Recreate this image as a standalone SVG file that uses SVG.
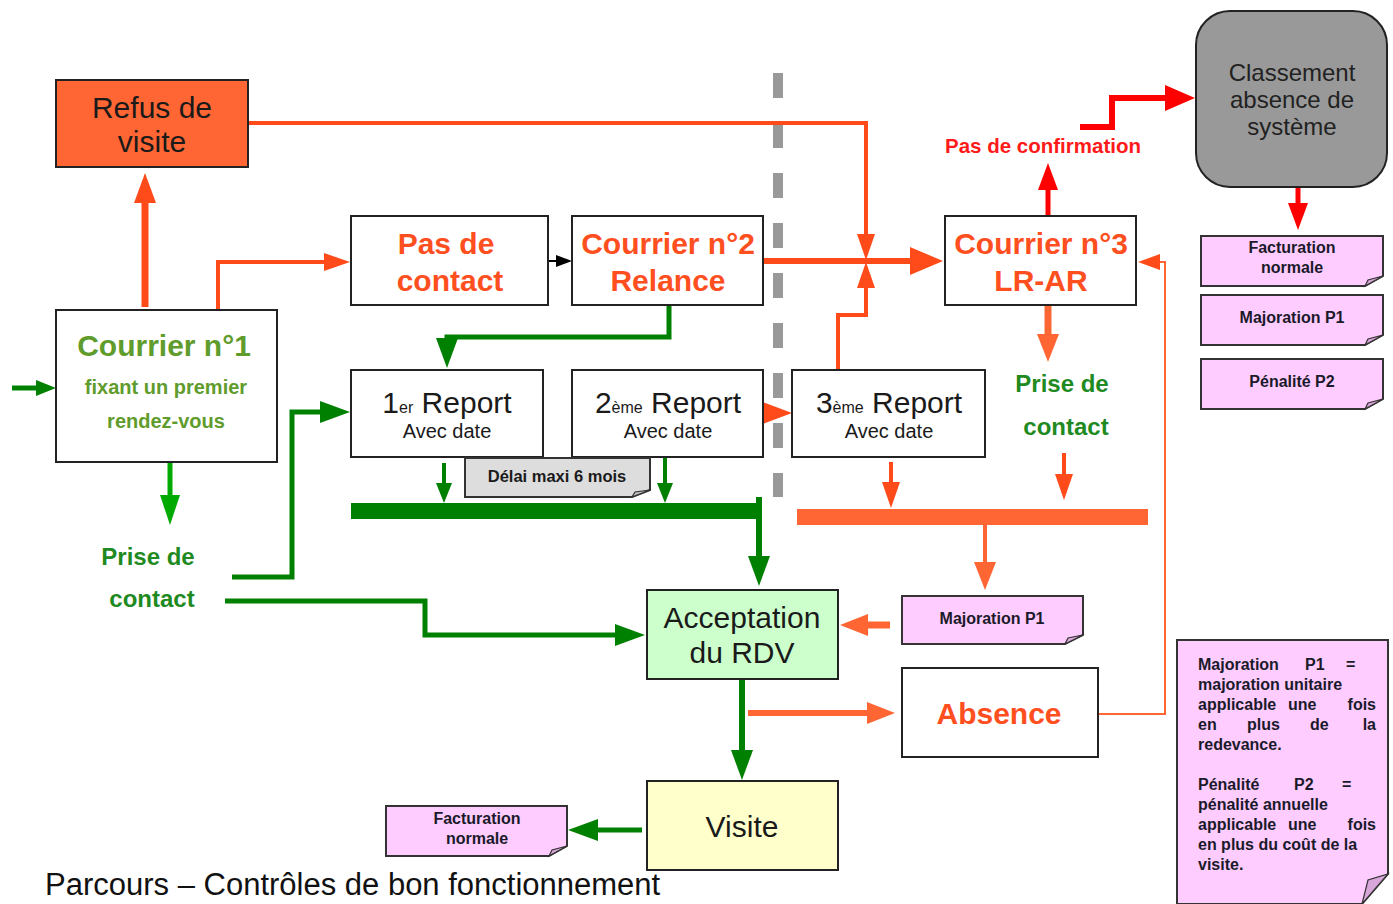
<svg xmlns="http://www.w3.org/2000/svg" width="1393" height="904" viewBox="0 0 1393 904">
<style>
  text { font-family: "Liberation Sans", Arial, sans-serif; }
  .box { fill: #ffffff; stroke: #222222; stroke-width: 2; }
  .note { fill: #FFCCFF; stroke: #333333; stroke-width: 2; }
  .fold { fill: #d9a6d9; stroke: #333333; stroke-width: 1.2; }
  .t-or { fill: #FF4F1F; font-weight: bold; font-size: 30px; text-anchor: middle; }
  .t-bk { fill: #1a1a1a; font-size: 30px; text-anchor: middle; }
  .t-note { fill: #1a1a2a; font-weight: bold; font-size: 16px; text-anchor: middle; }
  .t-big { fill: #1a1a2a; font-weight: bold; font-size: 16px; }
  .end { text-anchor: end; }
  .t-gr { fill: #1f8a1f; font-weight: bold; font-size: 24px; text-anchor: middle; }
  .c-or { fill: none; stroke: #FF4A1A; }
  .c-o { fill: none; stroke: #FF6633; }
  .c-r { fill: none; stroke: #FF0000; }
  .c-g { fill: none; stroke: #008000; }
  .c-g2 { fill: none; stroke: #00AA00; }
  .c-k { fill: none; stroke: #000000; }
</style>
<defs>
  <marker id="hOR30" markerUnits="userSpaceOnUse" viewBox="0 0 30 22" markerWidth="30" markerHeight="22" refX="0" refY="11" orient="auto"><path d="M0,0 L30,11 L0,22 Z" fill="#FF4A1A"/></marker>
  <marker id="hOR26" markerUnits="userSpaceOnUse" viewBox="0 0 26 18" markerWidth="26" markerHeight="18" refX="0" refY="9" orient="auto"><path d="M0,0 L26,9 L0,18 Z" fill="#FF4A1A"/></marker>
  <marker id="hOR33" markerUnits="userSpaceOnUse" viewBox="0 0 33 28" markerWidth="33" markerHeight="28" refX="0" refY="14" orient="auto"><path d="M0,0 L33,14 L0,28 Z" fill="#FF4A1A"/></marker>
  <marker id="hK" markerUnits="userSpaceOnUse" viewBox="0 0 16 12" markerWidth="16" markerHeight="12" refX="0" refY="6" orient="auto"><path d="M0,0 L16,6 L0,12 Z" fill="#000000"/></marker>
  <marker id="hR27" markerUnits="userSpaceOnUse" viewBox="0 0 27 20" markerWidth="27" markerHeight="20" refX="0" refY="10" orient="auto"><path d="M0,0 L27,10 L0,20 Z" fill="#FF0000"/></marker>
  <marker id="hR30" markerUnits="userSpaceOnUse" viewBox="0 0 30 26" markerWidth="30" markerHeight="26" refX="0" refY="13" orient="auto"><path d="M0,0 L30,13 L0,26 Z" fill="#FF0000"/></marker>
  <marker id="hO28" markerUnits="userSpaceOnUse" viewBox="0 0 28 22" markerWidth="28" markerHeight="22" refX="0" refY="11" orient="auto"><path d="M0,0 L28,11 L0,22 Z" fill="#FF6633"/></marker>
  <marker id="hOt" markerUnits="userSpaceOnUse" viewBox="0 0 22 16" markerWidth="22" markerHeight="16" refX="0" refY="8" orient="auto"><path d="M0,0 L22,8 L0,16 Z" fill="#FF4A1A"/></marker>
  <marker id="hG" markerUnits="userSpaceOnUse" viewBox="0 0 30 22" markerWidth="30" markerHeight="22" refX="0" refY="11" orient="auto"><path d="M0,0 L30,11 L0,22 Z" fill="#008000"/></marker>
  <marker id="hG20" markerUnits="userSpaceOnUse" viewBox="0 0 20 16" markerWidth="20" markerHeight="16" refX="0" refY="8" orient="auto"><path d="M0,0 L20,8 L0,16 Z" fill="#008000"/></marker>
  <marker id="hG2" markerUnits="userSpaceOnUse" viewBox="0 0 30 20" markerWidth="30" markerHeight="20" refX="0" refY="10" orient="auto"><path d="M0,0 L30,10 L0,20 Z" fill="#00AA00"/></marker>
</defs>

<!-- separator -->
<line x1="778" y1="73" x2="778" y2="497" stroke="#999999" stroke-width="10" stroke-dasharray="25 25"/>

<g id="connectors">
  <path class="c-or" stroke-width="7" d="M145,307 V203" marker-end="url(#hOR30)"/>
  <path class="c-or" stroke-width="4" d="M218,312 V262 H324" marker-end="url(#hOR26)"/>
  <path class="c-k" stroke-width="2" d="M548,261 H556" marker-end="url(#hK)"/>
  <path class="c-or" stroke-width="6" d="M763,261 H910" marker-end="url(#hOR33)"/>
  <path class="c-or" stroke-width="4" d="M248,123 H866 V234" marker-end="url(#hOR26)"/>
  <path class="c-or" stroke-width="4" d="M838,370 V315 H866 V288" marker-end="url(#hOR26)"/>
  <path class="c-r" stroke-width="5" d="M1048,216 V190" marker-end="url(#hR27)"/>
  <path class="c-r" stroke-width="6" d="M1080,127 H1112 V98 H1165" marker-end="url(#hR30)"/>
  <path class="c-r" stroke-width="5" d="M1298,187 V203" marker-end="url(#hR27)"/>
  <path class="c-o" stroke-width="7" d="M1048,305 V334" marker-end="url(#hO28)"/>
  <path class="c-or" stroke-width="4" d="M1064,453 V474" marker-end="url(#hOR26)"/>
  <path class="c-or" stroke-width="4" d="M891,462 V482" marker-end="url(#hOR26)"/>
  <rect x="797" y="509" width="351" height="16" fill="#FF6633"/>
  <path class="c-o" stroke-width="4" d="M985,525 V562" marker-end="url(#hO28)"/>
  <path class="c-o" stroke-width="7" d="M890,625 H868" marker-end="url(#hO28)"/>
  <path class="c-o" stroke-width="6" d="M748,713 H867" marker-end="url(#hO28)"/>
  <path class="c-o" stroke-width="2" d="M1098,714 H1165 V262 H1160" marker-end="url(#hOt)"/>
  <polygon points="760,401 792,413 760,425" fill="#FF4A1A"/>
  <path class="c-g" stroke-width="6" d="M742,679 V750" marker-end="url(#hG)"/>
  <path class="c-g" stroke-width="5" d="M642,830 H598" marker-end="url(#hG)"/>
  <path class="c-g" stroke-width="5" d="M669,305 V337 H447 V338" marker-end="url(#hG)"/>
  <path class="c-g" stroke-width="4" d="M444,463 V483" marker-end="url(#hG20)"/>
  <path class="c-g" stroke-width="4" d="M665,457 V483" marker-end="url(#hG20)"/>
  <rect x="351" y="503" width="410" height="16" fill="#008000"/>
  <path class="c-g" stroke-width="6" d="M759,497 V556" marker-end="url(#hG)"/>
  <path class="c-g2" stroke-width="5" d="M170,462 V495" marker-end="url(#hG2)"/>
  <path class="c-g" stroke-width="5" d="M12,388 H36" marker-end="url(#hG20)"/>
  <path class="c-g" stroke-width="5" d="M232,577 H292 V412 H320" marker-end="url(#hG)"/>
  <path class="c-g" stroke-width="5" d="M225,601 H425 V635 H615" marker-end="url(#hG)"/>
</g>

<g id="refus">
  <rect x="56" y="80" width="192" height="87" fill="#FF6633" stroke="#222222" stroke-width="2"/>
  <text class="t-bk" x="152" y="118">Refus de</text>
  <text class="t-bk" x="152" y="152">visite</text>
</g>

<g id="courrier1">
  <rect class="box" x="56" y="310" width="221" height="152"/>
  <text x="164" y="356" fill="#5f9c2c" font-weight="bold" font-size="30" text-anchor="middle">Courrier n°1</text>
  <text x="166" y="394" fill="#5f9c2c" font-weight="bold" font-size="20" text-anchor="middle">fixant un premier</text>
  <text x="166" y="428" fill="#5f9c2c" font-weight="bold" font-size="20" text-anchor="middle">rendez-vous</text>
</g>

<g id="pas-de-contact">
  <rect class="box" x="351" y="216" width="197" height="89"/>
  <text class="t-or" x="446" y="254">Pas de</text>
  <text class="t-or" x="450" y="291">contact</text>
</g>

<g id="courrier2">
  <rect class="box" x="572" y="216" width="191" height="89"/>
  <text class="t-or" x="668" y="254">Courrier n°2</text>
  <text class="t-or" x="668" y="291">Relance</text>
</g>

<g id="courrier3">
  <rect class="box" x="945" y="216" width="191" height="89"/>
  <text class="t-or" x="1041" y="254">Courrier n°3</text>
  <text class="t-or" x="1041" y="291">LR-AR</text>
</g>

<g id="pas-confirmation">
  <text x="1043" y="153" fill="#FF1A1A" font-weight="bold" font-size="20.5" text-anchor="middle">Pas de confirmation</text>
</g>

<g id="classement">
  <rect x="1196" y="11" width="191" height="176" rx="34" ry="34" fill="#999999" stroke="#222222" stroke-width="2"/>
  <text x="1292" y="81" fill="#222222" font-size="24" text-anchor="middle">Classement</text>
  <text x="1292" y="108" fill="#222222" font-size="24" text-anchor="middle">absence de</text>
  <text x="1292" y="135" fill="#222222" font-size="24" text-anchor="middle">système</text>
</g>

<g id="note-facturation-1">
  <path class="note" d="M1201,236 H1383 V276 L1365,286 H1201 Z"/>
  <path class="fold" d="M1383,276 L1365,286 L1368,280 Z"/>
  <text class="t-note" x="1292" y="253">Facturation</text>
  <text class="t-note" x="1292" y="273">normale</text>
</g>
<g id="note-majoration-1">
  <path class="note" d="M1201,295 H1383 V335 L1365,345 H1201 Z"/>
  <path class="fold" d="M1383,335 L1365,345 L1368,339 Z"/>
  <text class="t-note" x="1292" y="323">Majoration P1</text>
</g>
<g id="note-penalite">
  <path class="note" d="M1201,359 H1383 V399 L1365,409 H1201 Z"/>
  <path class="fold" d="M1383,399 L1365,409 L1368,403 Z"/>
  <text class="t-note" x="1292" y="387">Pénalité P2</text>
</g>

<g id="prise-contact-right">
  <text class="t-gr" x="1062" y="392">Prise de</text>
  <text class="t-gr" x="1066" y="435">contact</text>
</g>

<g id="prise-contact-left">
  <text class="t-gr" x="148" y="565">Prise de</text>
  <text class="t-gr" x="152" y="607">contact</text>
</g>

<g id="report1">
  <rect class="box" x="351" y="370" width="192" height="87"/>
  <text class="t-bk" x="447" y="413">1<tspan font-size="16">er</tspan> Report</text>
  <text x="447" y="438" fill="#1a1a1a" font-size="20" text-anchor="middle">Avec date</text>
</g>
<g id="report2">
  <rect class="box" x="572" y="370" width="191" height="87"/>
  <text class="t-bk" x="668" y="413">2<tspan font-size="16">ème</tspan> Report</text>
  <text x="668" y="438" fill="#1a1a1a" font-size="20" text-anchor="middle">Avec date</text>
</g>
<g id="report3">
  <rect class="box" x="792" y="370" width="193" height="87"/>
  <text class="t-bk" x="889" y="413">3<tspan font-size="16">ème</tspan> Report</text>
  <text x="889" y="438" fill="#1a1a1a" font-size="20" text-anchor="middle">Avec date</text>
</g>

<g id="delai">
  <path d="M465,458 H650 V490 L632,497 H465 Z" fill="#DDDDDD" stroke="#333333" stroke-width="2"/>
  <path class="fold" d="M650,490 L632,497 L635,492 Z" style="fill:#bbbbbb"/>
  <text x="557" y="482" fill="#1a1a1a" font-weight="bold" font-size="16.5" text-anchor="middle">Délai maxi 6 mois</text>
</g>

<g id="majoration-mid">
  <path class="note" d="M902,596 H1083 V635 L1065,644 H902 Z"/>
  <path class="fold" d="M1083,635 L1065,644 L1068,638 Z"/>
  <text class="t-note" x="992" y="624">Majoration P1</text>
</g>

<g id="acceptation">
  <rect x="647" y="590" width="191" height="89" fill="#CCFFCC" stroke="#222222" stroke-width="2"/>
  <text class="t-bk" x="742" y="628">Acceptation</text>
  <text class="t-bk" x="742" y="663">du RDV</text>
</g>

<g id="absence">
  <rect class="box" x="902" y="668" width="196" height="89"/>
  <text class="t-or" x="999" y="724">Absence</text>
</g>

<g id="visite">
  <rect x="647" y="781" width="191" height="89" fill="#FFFFCC" stroke="#222222" stroke-width="2"/>
  <text class="t-bk" x="742" y="837">Visite</text>
</g>

<g id="note-facturation-2">
  <path class="note" d="M386,806 H567 V846 L549,856 H386 Z"/>
  <path class="fold" d="M567,846 L549,856 L552,850 Z"/>
  <text class="t-note" x="477" y="824">Facturation</text>
  <text class="t-note" x="477" y="844">normale</text>
</g>

<g id="legende">
  <path class="note" d="M1177,640 H1388 V874 L1362,904 H1177 Z"/>
  <path class="fold" d="M1388,874 L1362,904 L1368,880 Z"/>
  <text class="t-big" y="670"><tspan x="1198">Majoration</tspan><tspan x="1305">P1</tspan><tspan x="1346">=</tspan></text>
  <text class="t-big" x="1198" y="690">majoration unitaire</text>
  <text class="t-big" x="1198" y="710">applicable</text>
  <text class="t-big" x="1288" y="710">une</text>
  <text class="t-big end" x="1376" y="710">fois</text>
  <text class="t-big" y="730"><tspan x="1198">en</tspan><tspan x="1247">plus</tspan><tspan x="1310">de</tspan></text>
  <text class="t-big end" x="1376" y="730">la</text>
  <text class="t-big" x="1198" y="750">redevance.</text>
  <text class="t-big" y="790"><tspan x="1198">Pénalité</tspan><tspan x="1294">P2</tspan><tspan x="1342">=</tspan></text>
  <text class="t-big" x="1198" y="810">pénalité annuelle</text>
  <text class="t-big" x="1198" y="830">applicable</text>
  <text class="t-big" x="1288" y="830">une</text>
  <text class="t-big end" x="1376" y="830">fois</text>
  <text class="t-big" x="1198" y="850">en plus du coût de la</text>
  <text class="t-big" x="1198" y="870">visite.</text>
</g>

<g id="titre">
  <text x="45" y="895" fill="#111111" font-size="31">Parcours – Contrôles de bon fonctionnement</text>
</g>
</svg>
